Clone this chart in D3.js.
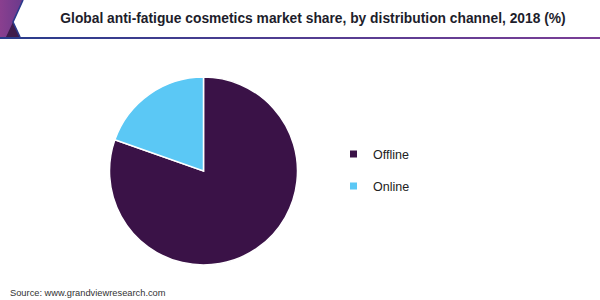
<!DOCTYPE html>
<html>
<head>
<meta charset="utf-8">
<script src="https://cdn.jsdelivr.net/npm/d3@7"></script>
<style>
  html, body { margin: 0; padding: 0; background: #fff; }
  svg { display: block; font-family: Arial, "Liberation Sans", sans-serif; }
</style>
</head>
<body>
<svg id="chart" width="600" height="300"></svg>
<script>
// Market share by distribution channel, 2018 (%)
const channels = ["Offline", "Online"];
const shares = [80.4, 19.6];
const colors = ["#3a1247", "#5bc8f5"];

const svg = d3.select("#chart");

// Header band: logo wedge and gradient rule
const defs = svg.append("defs");
const rule = defs.append("linearGradient").attr("id", "rule");
rule.append("stop").attr("offset", "0%").attr("stop-color", "#283c8c");
rule.append("stop").attr("offset", "100%").attr("stop-color", "#7a3d96");
const wedge = defs.append("linearGradient").attr("id", "wedge")
  .attr("x1", "0").attr("y1", "0").attr("x2", "1").attr("y2", "0");
wedge.append("stop").attr("offset", "0%").attr("stop-color", "#8a3f8f");
wedge.append("stop").attr("offset", "100%").attr("stop-color", "#6a3a8c");

svg.append("path")
  .attr("d", "M0,0 L23,0 L13,22 L20,37 L0,37 Z")
  .attr("fill", "url(#wedge)");
svg.append("path")
  .attr("d", "M6,37 L13,22 L20,37 Z")
  .attr("fill", "#3e1c4c");
svg.append("path")
  .attr("d", "M23,0 L13,22 L20,37")
  .attr("fill", "none")
  .attr("stroke", "#2b3a8c")
  .attr("stroke-width", 1.6);
svg.append("rect")
  .attr("x", 0).attr("y", 37).attr("width", 600).attr("height", 2)
  .attr("fill", "url(#rule)");

svg.append("text")
  .attr("x", 313).attr("y", 23)
  .attr("text-anchor", "middle")
  .attr("font-size", 13.8)
  .attr("font-weight", "bold")
  .attr("fill", "#1d1d2b")
  .text("Global anti-fatigue cosmetics market share, by distribution channel, 2018 (%)");

// Pie: offline drawn clockwise from 12 o'clock, online fills the rest
const cx = 203.5, cy = 171, radius = 94;
const pie = d3.pie().sort(null).value(d => d)(shares);
const arc = d3.arc().innerRadius(0).outerRadius(radius);

svg.append("g")
  .attr("transform", `translate(${cx},${cy})`)
  .selectAll("path")
  .data(pie)
  .join("path")
  .attr("d", arc)
  .attr("fill", (d, i) => colors[i])
  .attr("stroke", "#ffffff")
  .attr("stroke-width", 1.5);

// Legend
const legend = svg.append("g")
  .selectAll("g")
  .data(channels)
  .join("g")
  .attr("transform", (d, i) => `translate(350,${154 + i * 32})`);
legend.append("rect")
  .attr("x", 0).attr("y", -3.5)
  .attr("width", 7).attr("height", 7)
  .attr("fill", (d, i) => colors[i]);
legend.append("text")
  .attr("x", 23).attr("y", 4.5)
  .attr("font-size", 12.5)
  .attr("fill", "#222")
  .text(d => d);

svg.append("text")
  .attr("x", 10).attr("y", 296)
  .attr("font-size", 9.3)
  .attr("fill", "#333")
  .text("Source: www.grandviewresearch.com");
</script>
</body>
</html>
